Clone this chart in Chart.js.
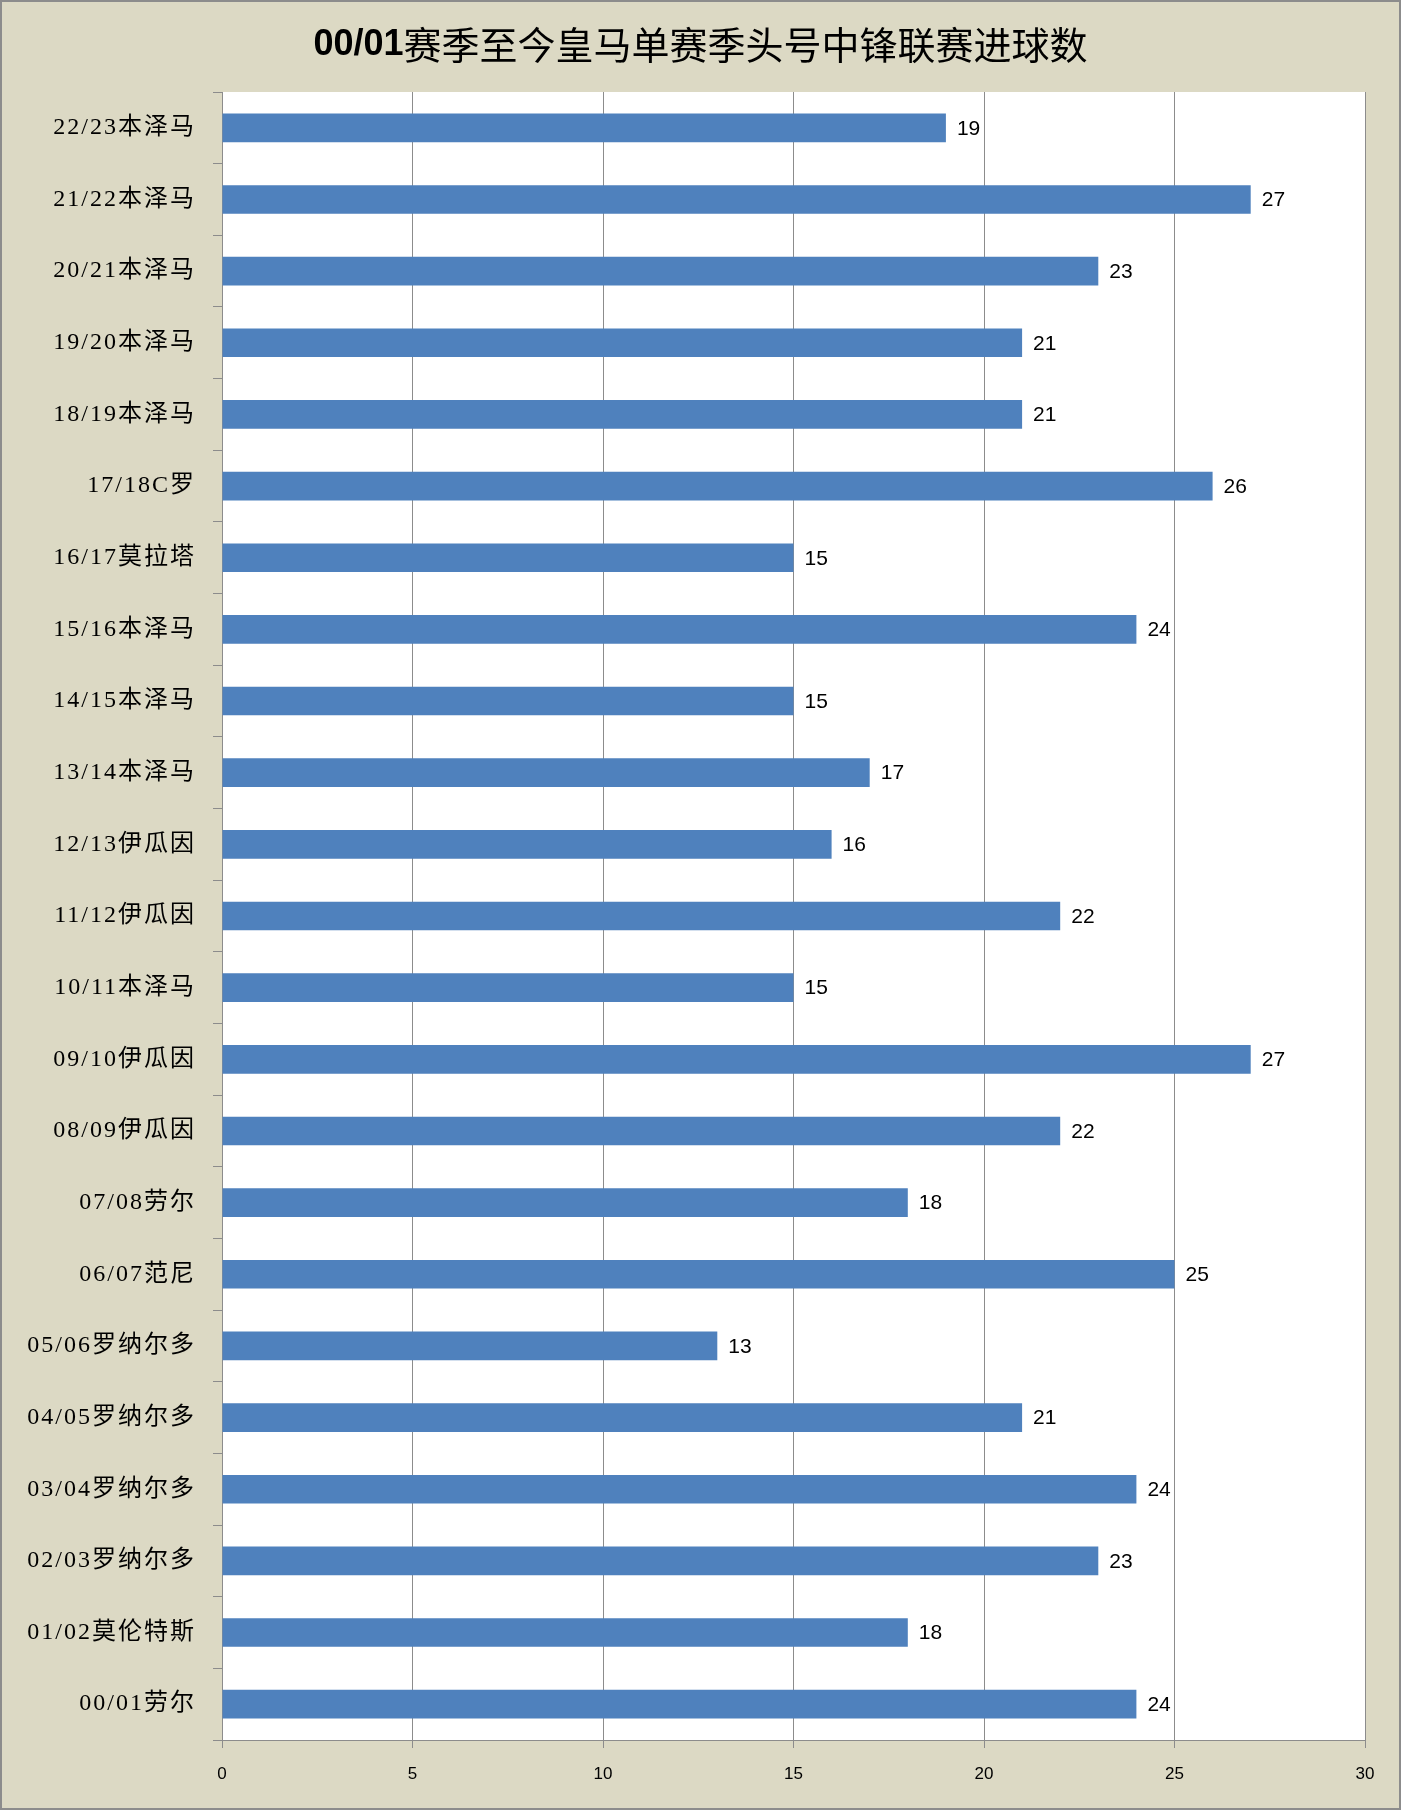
<!DOCTYPE html>
<html>
<head>
<meta charset="utf-8">
<script src="https://cdn.jsdelivr.net/npm/chart.js@4.4.0/dist/chart.umd.min.js"></script>
<style>
  html, body { margin: 0; padding: 0; background: #fff; }
  #wrap { position: relative; width: 1401px; height: 1810px; box-sizing: border-box;
          border: 2px solid #8c8c8c; background: #dcd9c4; }
</style>
</head>
<body>
<div id="wrap"><canvas id="goals"></canvas></div>
<script>
// top to bottom, as shown in the picture
const seasons = [
  "22/23本泽马", "21/22本泽马", "20/21本泽马", "19/20本泽马", "18/19本泽马",
  "17/18C罗", "16/17莫拉塔", "15/16本泽马", "14/15本泽马", "13/14本泽马",
  "12/13伊瓜因", "11/12伊瓜因", "10/11本泽马", "09/10伊瓜因", "08/09伊瓜因",
  "07/08劳尔", "06/07范尼", "05/06罗纳尔多", "04/05罗纳尔多", "03/04罗纳尔多",
  "02/03罗纳尔多", "01/02莫伦特斯", "00/01劳尔"
];
const goals = [19, 27, 23, 21, 21, 26, 15, 24, 15, 17, 16, 22, 15, 27, 22, 18, 25, 13, 21, 24, 23, 18, 24];
const titleBold = "00/01";
const titleRest = "赛季至今皇马单赛季头号中锋联赛进球数";
const xMin = 0, xMax = 30, xStep = 5;

const gray = "#8c8c8c";

// white plot area
const plotBg = {
  id: "plotBg",
  beforeDraw(chart) {
    const a = chart.chartArea, ctx = chart.ctx;
    ctx.letterSpacing = "0px";
    ctx.save();
    ctx.fillStyle = "#ffffff";
    ctx.fillRect(a.left, a.top, a.right - a.left, a.bottom - a.top);
    ctx.restore();
  }
};

// value labels at the end of each bar, then widen spacing for the category labels (drawn on z 1)
const valueLabels = {
  id: "valueLabels",
  afterDatasetsDraw(chart) {
    const ctx = chart.ctx;
    const meta = chart.getDatasetMeta(0);
    ctx.save();
    ctx.font = '21px "Liberation Sans"';
    ctx.fillStyle = "#000";
    ctx.textBaseline = "middle";
    ctx.textAlign = "left";
    meta.data.forEach((bar, i) => {
      ctx.fillText(String(goals[i]), bar.x + 11, bar.y + 1);
    });
    ctx.restore();
    ctx.letterSpacing = "2px";
  }
};

// title: bold latin part + regular CJK part
const splitTitle = {
  id: "splitTitle",
  afterDraw(chart) {
    const ctx = chart.ctx;
    ctx.letterSpacing = "0px";
    ctx.save();
    ctx.textBaseline = "middle";
    ctx.textAlign = "left";
    ctx.fillStyle = "#000";
    const f1 = 'bold 36px "Liberation Sans"';
    const f2 = '38px "Noto Sans CJK SC"';
    ctx.font = f1;
    const w1 = ctx.measureText(titleBold).width;
    ctx.font = f2;
    const w2 = ctx.measureText(titleRest).width;
    let x = chart.width / 2 - (w1 + w2) / 2;
    const y = 43;
    ctx.font = f1;
    ctx.fillText(titleBold, x, y);
    ctx.font = f2;
    ctx.fillText(titleRest, x + w1, y);
    ctx.restore();
  }
};

new Chart(document.getElementById("goals"), {
  type: "bar",
  data: {
    labels: seasons,
    datasets: [{
      data: goals,
      backgroundColor: "#4f81bd",
      borderWidth: 0,
      barPercentage: 0.4,
      categoryPercentage: 1.0
    }]
  },
  options: {
    indexAxis: "y",
    responsive: true,
    maintainAspectRatio: false,
    animation: false,
    layout: { padding: { top: 90, right: 34, left: 0, bottom: 0 } },
    plugins: {
      legend: { display: false },
      title: { display: false },
      tooltip: { enabled: false }
    },
    scales: {
      x: {
        min: xMin,
        max: xMax,
        ticks: {
          stepSize: xStep,
          color: "#000",
          font: { family: "Liberation Sans", size: 17 },
          padding: 16
        },
        grid: { color: gray, lineWidth: 1, tickLength: 8 },
        border: { color: gray, width: 1 },
        afterFit(s) { s.height = 68; }
      },
      y: {
        ticks: {
          z: 1,
          color: "#000",
          font: { family: '"Liberation Serif", "Noto Sans CJK SC"', size: 24 },
          padding: 17
        },
        grid: { offset: true, drawOnChartArea: false, color: gray, tickLength: 9 },
        border: { color: gray, width: 1 },
        afterFit(s) { s.width = 220; }
      }
    }
  },
  plugins: [plotBg, valueLabels, splitTitle]
});
</script>
</body>
</html>
